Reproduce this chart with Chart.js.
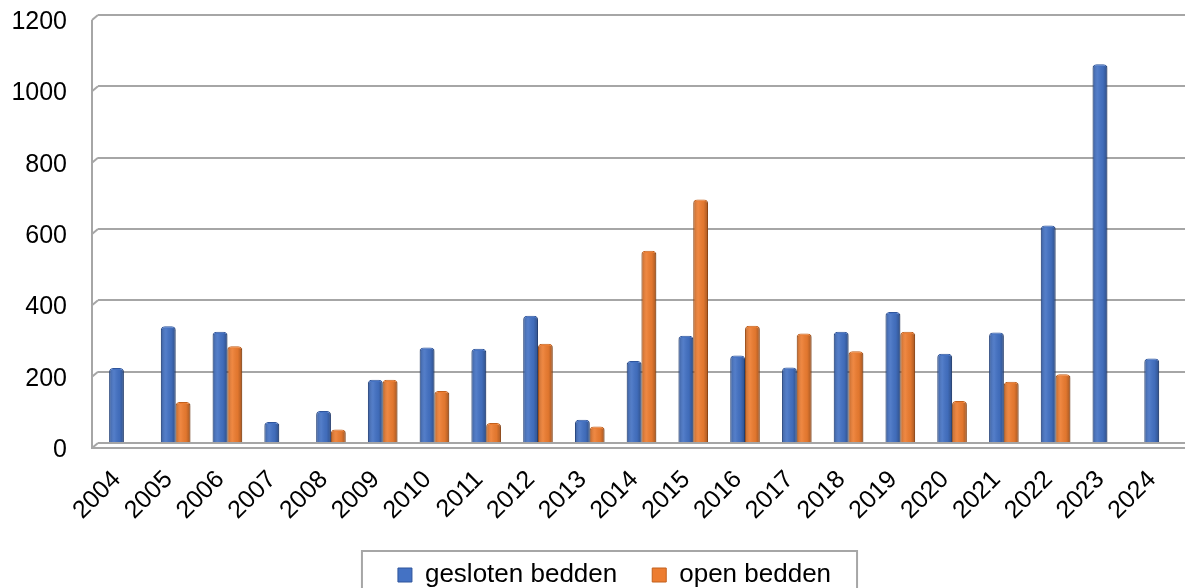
<!DOCTYPE html>
<html>
<head>
<meta charset="utf-8">
<script src="https://cdn.jsdelivr.net/npm/chart.js@4.4.1/dist/chart.umd.min.js"></script>
<style>
  html, body { margin: 0; padding: 0; background: #fff; }
  #wrap { width: 1185px; height: 588px; }
</style>
</head>
<body>
<div id="wrap"><canvas id="bedChart"></canvas></div>
<script>
var years = ["2004", "2005", "2006", "2007", "2008", "2009", "2010", "2011", "2012", "2013", "2014",
             "2015", "2016", "2017", "2018", "2019", "2020", "2021", "2022", "2023", "2024"];
var geslotenBedden = [210, 327, 312, 59, 90, 177, 268, 264, 357, 65, 230,
                      301, 245, 212, 312, 367, 250, 310, 610, 1062, 237];
var openBedden = [0, 115, 271, 0, 38, 177, 146, 56, 278, 46, 539,
                  683, 329, 307, 257, 312, 118, 172, 193, 0, 0];
var yTicks = [0, 200, 400, 600, 800, 1000, 1200];

// shading so the bars look a bit like the cylinders in the original
var cylinderShade = {
  id: "cylinderShade",
  afterDatasetsDraw: function (chart) {
    var ctx = chart.ctx;
    chart.data.datasets.forEach(function (ds, i) {
      chart.getDatasetMeta(i).data.forEach(function (bar) {
        var w = bar.width, left = bar.x - w / 2, top = bar.y, h = bar.base - bar.y;
        if (h < 1) return;
        var g = ctx.createLinearGradient(left, 0, left + w, 0);
        g.addColorStop(0, "rgba(0,0,0,0.22)");
        g.addColorStop(0.35, "rgba(255,255,255,0.08)");
        g.addColorStop(0.7, "rgba(0,0,0,0.05)");
        g.addColorStop(1, "rgba(0,0,0,0.3)");
        ctx.save();
        ctx.fillStyle = g;
        ctx.fillRect(left, top + 2, w, h - 2);
        ctx.restore();
      });
    });
  }
};

// left wall / floor lines of the pseudo-3d frame, plus legend box
var frame3d = {
  id: "frame3d",
  afterLayout: function (chart) {
    // legend in the original sits a bit right of centre
    chart.legend.left += 22;
    chart.legend.right += 22;
  },
  beforeDatasetsDraw: function (chart) {
    var ctx = chart.ctx, y = chart.scales.y, a = chart.chartArea;
    ctx.save();
    ctx.strokeStyle = "#a6a6a6";
    ctx.lineWidth = 2;
    yTicks.forEach(function (t) {
      var py = y.getPixelForValue(t);
      ctx.beginPath();
      ctx.moveTo(a.left - 6, py + 5);
      ctx.lineTo(a.left, py);
      ctx.stroke();
    });
    ctx.beginPath();
    ctx.moveTo(a.left - 6, y.getPixelForValue(1200) + 5);
    ctx.lineTo(a.left - 6, y.getPixelForValue(0) + 5);
    ctx.lineTo(a.right, y.getPixelForValue(0) + 5);
    ctx.stroke();
    ctx.restore();
  },
  afterDraw: function (chart) {
    var ctx = chart.ctx, hb = chart.legend.legendHitBoxes;
    if (!hb || !hb.length) return;
    var l = hb[0].left - 36, r = hb[hb.length - 1].left + hb[hb.length - 1].width + 26;
    ctx.save();
    ctx.strokeStyle = "#a6a6a6";
    ctx.lineWidth = 2;
    ctx.strokeRect(l, 551, r - l, 60);
    ctx.restore();
  }
};

new Chart(document.getElementById("bedChart"), {
  type: "bar",
  data: {
    labels: years,
    datasets: [
      {
        label: "gesloten bedden",
        data: geslotenBedden,
        backgroundColor: "#4472C4",
        borderColor: "#2f559c",
        borderWidth: 1,
        borderRadius: { topLeft: 4, topRight: 4 },
        borderSkipped: "bottom",
      },
      {
        label: "open bedden",
        data: openBedden,
        backgroundColor: "#ED7D31",
        borderColor: "#c2601d",
        borderWidth: 1,
        borderRadius: { topLeft: 4, topRight: 4 },
        borderSkipped: "bottom",
      },
    ],
  },
  options: {
    responsive: true,
    maintainAspectRatio: false,
    animation: false,
    layout: { padding: { left: 0, right: 0, top: 15, bottom: -10 } },
    datasets: {
      bar: { categoryPercentage: 0.57, barPercentage: 1 },
    },
    scales: {
      x: {
        afterFit: function (scale) {
          scale.height = 84;
          scale.paddingLeft = 0;
          scale.paddingRight = 0;
        },
        grid: { display: false, drawTicks: false },
        border: { display: false },
        ticks: {
          color: "#000",
          font: { family: "Liberation Sans", size: 25 },
          minRotation: 45,
          maxRotation: 45,
          padding: 22,
          labelOffset: -7,
        },
      },
      y: {
        min: 0,
        max: 1200,
        afterFit: function (scale) {
          scale.width = 98;
          scale.paddingTop = 0;
          scale.paddingBottom = 0;
        },
        afterBuildTicks: function (scale) {
          scale.ticks = yTicks.map(function (v) { return { value: v }; });
        },
        grid: { color: "#a6a6a6", lineWidth: 2, drawTicks: false },
        border: { display: false },
        ticks: {
          color: "#000",
          font: { family: "Liberation Sans", size: 25 },
          padding: 31,
          labelOffset: 7,
          callback: function (v) { return String(v); },
        },
      },
    },
    plugins: {
      legend: {
        position: "bottom",
        labels: {
          color: "#000",
          font: { family: "Liberation Sans", size: 26 },
          boxWidth: 14,
          boxHeight: 14,
          padding: 35,
        },
      },
      tooltip: { enabled: false },
    },
  },
  plugins: [frame3d, cylinderShade],
});
</script>
</body>
</html>
